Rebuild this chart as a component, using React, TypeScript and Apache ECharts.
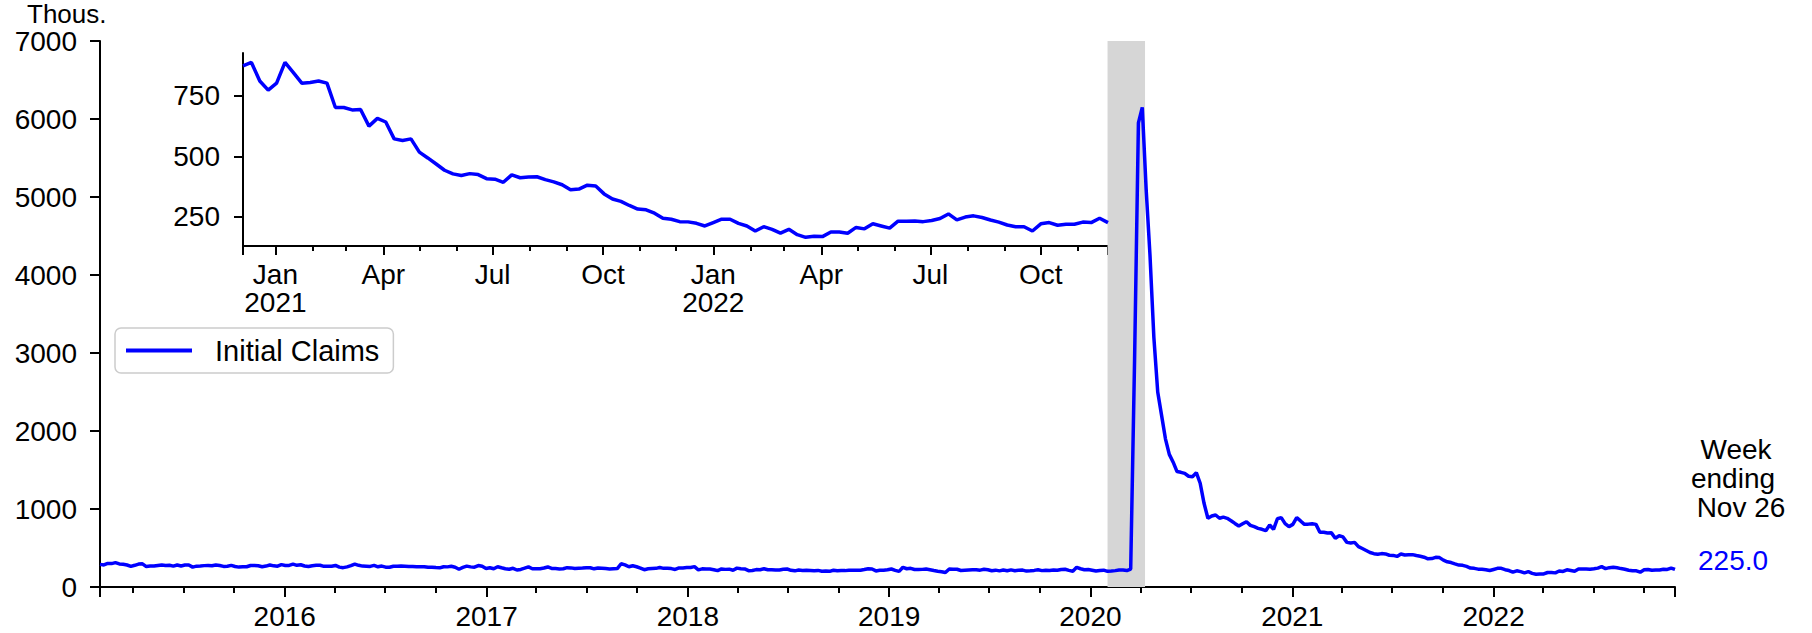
import React, { useEffect, useRef } from "react";
import * as echarts from "echarts";

const FONT = "'Liberation Sans', Arial, Helvetica, sans-serif";
const BLUE = "#0000ff";

const seriesName = "Initial Claims";
const unitLabel = "Thous.";
const endNoteLines = ["Week", "ending"];
const monthNames = ["Jan", "Feb", "Mar", "Apr", "May", "Jun", "Jul", "Aug", "Sep", "Oct", "Nov", "Dec"];

// week ending Saturday Jan 31, 2015 is the first observation; one value per week
const firstWeekEnding = [2015, 0, 31];
const insetFirstWeek = [2020, 11, 5];
const recessionStart = [2020, 1, 1];
const recessionEnd = [2020, 3, 9];

const yearLabels = [2016, 2017, 2018, 2019, 2020, 2021, 2022];
const mainYMax = 7000;
const mainYStep = 1000;
const insetYTicks = [250, 500, 750];
const insetYRange = [128, 928];

// Initial claims, thousands, seasonally adjusted, weekly
const claims2015 = [290,
  283, 302, 300, 312,
  296, 291, 282, 265,
  278, 294, 297, 262,
  268, 269, 276, 283, 275,
  279, 268, 282, 270,
  281, 282, 255, 267,
  270, 274, 277, 272, 282,
  275, 264, 267, 277,
  263, 255, 259, 260, 276,
  276, 272, 260, 268,
  282, 271, 267, 287];
const claims2016 = [276, 277, 293, 278, 285,
  269, 262, 272, 278,
  278, 265, 266, 267,
  276, 255, 248, 258, 274,
  294, 278, 268, 267,
  264, 277, 259, 268,
  254, 253, 266, 265, 269,
  266, 262, 263, 260,
  259, 260, 252, 254,
  249, 246, 260, 258, 265,
  254, 228, 251, 268,
  258, 254, 275, 265, 237];
const claims2017 = [247, 234, 259, 246,
  234, 228, 240, 218,
  225, 241, 258, 234,
  235, 234, 243, 257, 238,
  236, 232, 234, 248,
  245, 237, 241, 244,
  248, 247, 233, 244, 240,
  236, 232, 234, 236,
  298, 284, 259, 272, 260,
  243, 222, 233, 238,
  239, 249, 239, 241,
  236, 225, 245, 245, 250];
const claims2018 = [250, 261, 220, 233,
  230, 230, 222, 210,
  231, 226, 229, 215, 242,
  233, 232, 209, 211,
  223, 222, 234, 222,
  222, 218, 218, 227, 231,
  214, 207, 217, 213,
  214, 212, 209, 213,
  203, 204, 201, 214, 207,
  210, 210, 215, 214,
  214, 216, 224, 235,
  231, 206, 214, 216, 221];
const claims2019 = [231, 213, 200, 253,
  234, 239, 225, 223,
  226, 230, 221, 211, 202,
  196, 185, 230, 228,
  228, 212, 215, 218,
  220, 222, 216, 227, 221,
  209, 216, 207, 217,
  209, 220, 209, 215, 217,
  204, 208, 213, 220,
  210, 214, 212, 218,
  215, 225, 227, 213, 203,
  252, 234, 222, 224];
const claims2020 = [214, 204, 211, 216,
  201, 205, 210, 219, 217,
  211, 230, 2900, 5950,
  6150, 5100, 4250, 3200,
  2500, 2200, 1900, 1700, 1600,
  1480, 1470, 1457, 1420,
  1414, 1466, 1330, 1073,
  881, 910, 923, 881, 895,
  880, 850, 815, 782,
  810, 837, 790, 773, 752,
  740, 722, 795, 740,
  875, 889, 812, 774];
const claims2021 = [803, 889, 847, 803, 806,
  812, 803, 702, 702,
  692, 694, 625, 657,
  642, 572, 565, 572,
  517, 493, 468, 442, 427,
  420, 428, 424, 407,
  405, 392, 423, 411, 414,
  415, 403, 394, 382,
  361, 364, 380, 377,
  344, 323, 313, 296, 281,
  278, 264, 243, 239,
  229, 228, 222, 211];
const claims2022 = [225, 239, 239, 222, 211,
  190, 208, 197, 181,
  197, 175, 164, 168,
  167, 186, 186, 181, 205,
  199, 220, 211, 202,
  231, 231, 232, 229,
  234, 242, 261, 236, 248,
  253, 246, 236, 227,
  215, 208, 208, 190,
  220, 225, 214, 218, 218,
  227, 225, 243, 225];

const dayOf = (y: number, m: number, d: number = 1) => new Date(y, m, d).getTime();

export default function App() {
  const ref = useRef<HTMLDivElement>(null);

  useEffect(() => {
    if (!ref.current) return;
    const chart = echarts.init(ref.current, null, { renderer: "svg" });

    const weekly = [
      ...claims2015, ...claims2016, ...claims2017, ...claims2018,
      ...claims2019, ...claims2020, ...claims2021, ...claims2022,
    ];
    const [fy, fm, fd] = firstWeekEnding;
    const points = weekly.map((v, i) => [dayOf(fy, fm, fd + 7 * i), v]);
    const START = points[0][0] as number;
    const END = points[points.length - 1][0] as number;
    const INSET_START = dayOf(insetFirstWeek[0], insetFirstWeek[1], insetFirstWeek[2]);
    const insetPoints = points.filter((p) => (p[0] as number) >= INSET_START);
    const lastDate = new Date(END);

    // main axis ticks
    const mainLabels = yearLabels.map((y) => dayOf(y, 0));
    const mainMajor = [START, ...mainLabels, END];
    const mainMinor: number[] = [];
    for (let y = 2015; y <= 2022; y++) {
      for (let m = 0; m < 12; m += 3) {
        const t = dayOf(y, m);
        if (t > START && t < END) mainMinor.push(t);
      }
    }
    // inset axis ticks
    const insetLabels: number[] = [];
    const insetMinor: number[] = [];
    for (let y = 2020; y <= 2022; y++) {
      for (let m = 0; m < 12; m++) {
        const t = dayOf(y, m);
        if (t > INSET_START && t < END) {
          insetMinor.push(t);
          if (m % 3 === 0) insetLabels.push(t);
        }
      }
    }
    const insetMajor = [INSET_START, ...insetLabels, END];

    const axisLine = { show: true, lineStyle: { color: "#000", width: 2 } };
    const tickLine = { color: "#000", width: 2 };
    const labelStyle = { color: "#000", fontSize: 28, fontFamily: FONT };
    const plain = (v: number) => String(v);

    const option: any = {
      animation: false,
      backgroundColor: "#ffffff",
      textStyle: { fontFamily: FONT },
      grid: [
        { left: 100, right: 137, top: 41, bottom: 46, outerBoundsMode: "none", containLabel: false },
        { left: 243, right: 704, top: 53, bottom: 387, outerBoundsMode: "none", containLabel: false },
      ],
      legend: {
        data: [{ name: seriesName, icon: "rect" }],
        left: 115,
        top: 328,
        padding: [8, 14, 8, 11],
        itemWidth: 66,
        itemHeight: 4,
        backgroundColor: "#ffffff",
        borderColor: "#cccccc",
        borderWidth: 1.5,
        borderRadius: 6,
        itemStyle: { color: BLUE },
        textStyle: { color: "#000", fontSize: 29, fontFamily: FONT, padding: [0, 0, 0, 18] },
        selectedMode: false,
      },
      xAxis: [
        {
          type: "value", gridIndex: 0, position: "bottom", min: START, max: END, scale: true,
          axisLine,
          axisTick: { show: true, customValues: mainMajor, length: 10, lineStyle: tickLine },
          axisLabel: {
            ...labelStyle, margin: 15, customValues: mainLabels,
            formatter: (v: number) => String(new Date(v).getFullYear()),
          },
          splitLine: { show: false },
        },
        {
          type: "value", gridIndex: 0, position: "bottom", min: START, max: END, scale: true,
          axisLine: { show: false },
          axisTick: { show: true, customValues: mainMinor, length: 6, lineStyle: tickLine },
          axisLabel: { show: false },
          splitLine: { show: false },
        },
        {
          type: "value", gridIndex: 1, position: "bottom", min: INSET_START, max: END, scale: true,
          axisLine,
          axisTick: { show: true, customValues: insetMajor, length: 9, lineStyle: tickLine },
          axisLabel: {
            ...labelStyle, margin: 14, lineHeight: 28, customValues: insetLabels,
            formatter: (v: number) => {
              const dt = new Date(v);
              return dt.getMonth() === 0 ? `Jan\n${dt.getFullYear()}` : monthNames[dt.getMonth()];
            },
          },
          splitLine: { show: false },
        },
        {
          type: "value", gridIndex: 1, position: "bottom", min: INSET_START, max: END, scale: true,
          axisLine: { show: false },
          axisTick: { show: true, customValues: insetMinor, length: 5, lineStyle: tickLine },
          axisLabel: { show: false },
          splitLine: { show: false },
        },
      ],
      yAxis: [
        {
          type: "value", gridIndex: 0, min: 0, max: mainYMax, interval: mainYStep,
          axisLine,
          axisTick: { show: true, length: 10, lineStyle: tickLine },
          axisLabel: { ...labelStyle, margin: 23, formatter: plain },
          splitLine: { show: false },
        },
        {
          type: "value", gridIndex: 1, min: insetYRange[0], max: insetYRange[1],
          axisLine,
          axisTick: { show: true, length: 9, customValues: insetYTicks, lineStyle: tickLine },
          axisLabel: { ...labelStyle, margin: 23, customValues: insetYTicks, formatter: plain },
          splitLine: { show: false },
        },
      ],
      series: [
        {
          name: seriesName,
          type: "line",
          xAxisIndex: 0,
          yAxisIndex: 0,
          data: points,
          symbol: "none",
          showSymbol: false,
          lineStyle: { color: BLUE, width: 3.5 },
          itemStyle: { color: BLUE },
          z: 3,
          endLabel: {
            show: true,
            formatter: (p: any) => Number(p.value[1]).toFixed(1),
            color: BLUE,
            fontSize: 28,
            fontFamily: FONT,
            distance: 23,
            offset: [0, -9],
          },
          markArea: {
            silent: true,
            itemStyle: { color: "#d6d6d6" },
            data: [[
              { xAxis: dayOf(recessionStart[0], recessionStart[1], recessionStart[2]) },
              { xAxis: dayOf(recessionEnd[0], recessionEnd[1], recessionEnd[2]) },
            ]],
          },
        },
        {
          name: seriesName + " (Dec 2020 to Nov 2022)",
          type: "line",
          xAxisIndex: 2,
          yAxisIndex: 1,
          data: insetPoints,
          symbol: "none",
          showSymbol: false,
          lineStyle: { color: BLUE, width: 3.5 },
          itemStyle: { color: BLUE },
          z: 3,
        },
      ],
      graphic: [
        {
          type: "text", x: 27, y: 1,
          style: { text: unitLabel, fontSize: 26, fontFamily: FONT, fill: "#000", align: "left", verticalAlign: "top" },
        },
        {
          type: "text", x: 1736, y: 449,
          style: { text: endNoteLines[0], fontSize: 28, fontFamily: FONT, fill: "#000", align: "center", verticalAlign: "middle" },
        },
        {
          type: "text", x: 1733, y: 478,
          style: { text: endNoteLines[1], fontSize: 28, fontFamily: FONT, fill: "#000", align: "center", verticalAlign: "middle" },
        },
        {
          type: "text", x: 1741, y: 507,
          style: {
            text: `${monthNames[lastDate.getMonth()]} ${lastDate.getDate()}`,
            fontSize: 28, fontFamily: FONT, fill: "#000", align: "center", verticalAlign: "middle",
          },
        },
      ],
    };

    chart.setOption(option);
    return () => chart.dispose();
  }, []);

  return (
    <div
      ref={ref}
      style={{ position: "fixed", left: 0, top: 0, width: 1812, height: 633, background: "#fff" }}
    />
  );
}
